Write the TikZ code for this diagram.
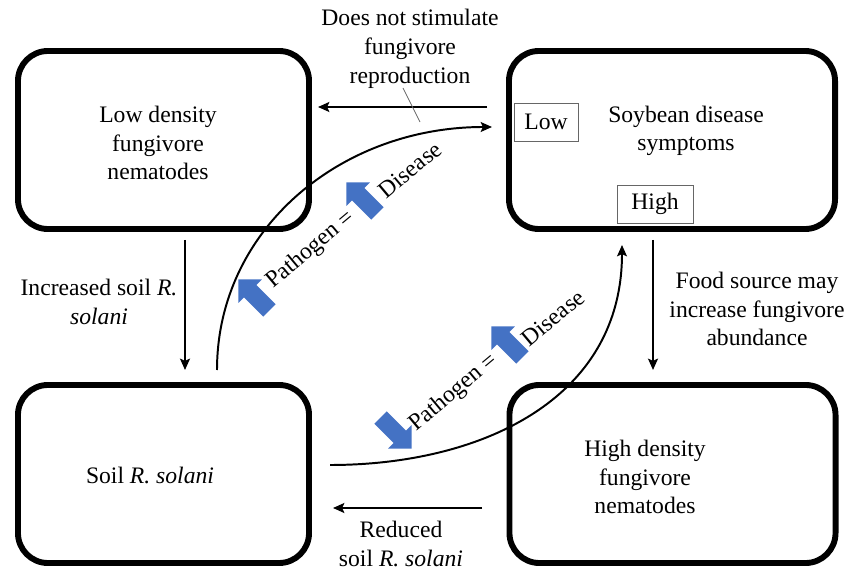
\documentclass[tikz,border=0pt]{standalone}
\usepackage{fontspec}
\setmainfont{Liberation Serif}
\usetikzlibrary{arrows.meta,shapes.arrows}

\definecolor{pathblue}{HTML}{4472C4}

\tikzset{
  box/.style={draw, line width=4.2pt, rounded corners=0.75cm, minimum height=4.45cm},
  tag/.style={draw=black!60, line width=0.7pt, inner sep=0pt, minimum height=0.95cm},
  lbl/.style={align=center},
  link/.style={line width=1.6pt, -{Stealth[length=8pt,width=7pt,inset=1.5pt]}},
  blk/.style={single arrow, fill=pathblue, inner xsep=0pt, inner ysep=0.21cm,
    minimum height=1.1cm, single arrow head extend=0.2cm},
}

\begin{document}
\begin{tikzpicture}[x=0.025cm, y=-0.025cm, font=\fontsize{16.8}{20.4}\selectfont]
  \useasboundingbox (0,0) rectangle (848,570);

  % the four boxes
  \node[box, minimum width=7.275cm] (low)  at (163.5,140) {};
  \node[box, minimum width=8.15cm]  (soy)  at (672,140) {};
  \node[box, minimum width=7.275cm] (soil) at (163.5,474) {};
  \node[box, minimum width=8.15cm]  (high) at (672.5,474) {};

  \node[lbl] (lowtxt)  at (158,143) {Low density\\fungivore\\nematodes};
  \node[lbl] (soytxt)  at (686,131) {Soybean disease\\symptoms};
  \node[lbl] (soiltxt) at (150,475) {Soil \textit{R. solani}};
  \node[lbl] (hightxt) at (645,477) {High density\\fungivore\\nematodes};

  \node[tag, minimum width=1.6cm] (lowtag)  at (546,122) {Low};
  \node[tag, minimum width=1.9cm] (hightag) at (655,204) {High};

  % straight arrows
  \coordinate (t1) at (487,107);  \coordinate (t2) at (318,107);
  \coordinate (l1) at (185,240);  \coordinate (l2) at (185,370);
  \coordinate (r1) at (653,240);  \coordinate (r2) at (653,370);
  \coordinate (b1) at (482,508);  \coordinate (b2) at (333,508);
  \draw[link] (t1) -- (t2);
  \draw[link] (l1) -- (l2);
  \draw[link] (r1) -- (r2);
  \draw[link] (b1) -- (b2);

  \node[lbl] (note)    at (410,49)  {Does not stimulate\\fungivore\\reproduction};
  \node[lbl] (incr)    at (99,302)  {Increased soil \textit{R.}\\\textit{solani}};
  \node[lbl] (food)    at (757,309) {Food source may\\increase fungivore\\abundance};
  \node[lbl] (reduced) at (401,544) {Reduced\\soil \textit{R. solani}};

  % curved arrows
  \coordinate (c1) at (217,370);  \coordinate (c2) at (492,127);
  \coordinate (d1) at (330,465);  \coordinate (d2) at (622,245);
  \draw[link, line width=1.4pt] (c1) .. controls (217,230) and (340,127) .. (c2);
  \draw[link, line width=1.4pt] (d1) .. controls (480,465) and (622,400) .. (d2);

  \coordinate (n1) at (403,88);  \coordinate (n2) at (420,122);
  \draw[black!60, line width=0.6pt] (n1) -- (n2);

  % pathogen = disease
  \node[blk, rotate=135] (up1) at (257,298) {};
  \node[lbl, rotate=40]  (pa1) at (311,250) {Pathogen =};
  \node[blk, rotate=135] (up2) at (365,201) {};
  \node[lbl, rotate=40]  (di1) at (410,170) {Disease};

  \node[blk, rotate=-45] (dn3) at (393,430) {};
  \node[lbl, rotate=40]  (pa2) at (454,393) {Pathogen =};
  \node[blk, rotate=135] (up4) at (510,345) {};
  \node[lbl, rotate=40]  (di2) at (553,318) {Disease};
\end{tikzpicture}
\end{document}
